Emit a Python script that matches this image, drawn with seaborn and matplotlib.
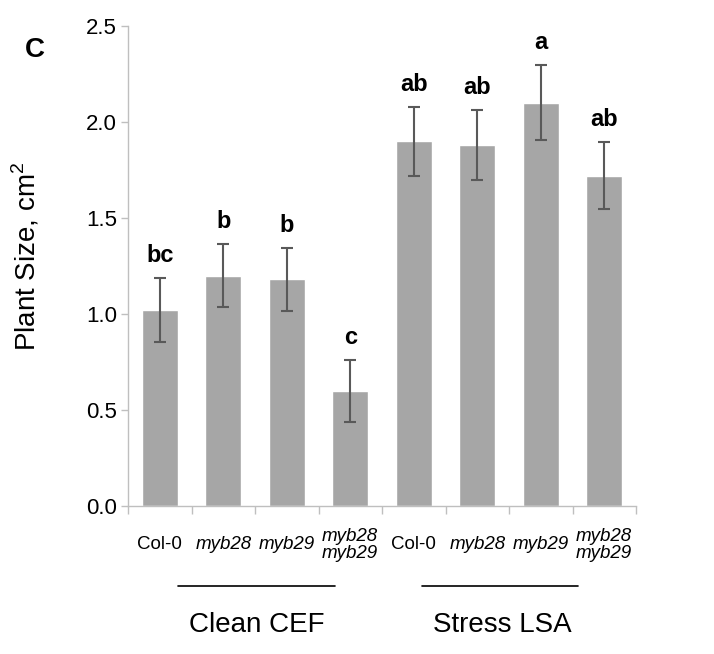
import pandas as pd
import matplotlib.pyplot as plt
import matplotlib.transforms as mtransforms
import seaborn as sns

# dados
grupos = ['Clean CEF'] * 4 + ['Stress LSA'] * 4
genotipos = ['Col-0', 'myb28', 'myb29', 'myb28\nmyb29'] * 2
medias = [1.02, 1.20, 1.18, 0.60, 1.90, 1.88, 2.10, 1.72]
erros = [0.165, 0.165, 0.165, 0.16, 0.18, 0.18, 0.195, 0.175]
letras = ['bc', 'b', 'b', 'c', 'ab', 'ab', 'a', 'ab']
y_ticks = [0.0, 0.5, 1.0, 1.5, 2.0, 2.5]

df = pd.DataFrame({'grupo': grupos, 'genotipo': genotipos, 'media': medias})
df['chave'] = df['grupo'] + ' ' + df['genotipo']

sns.set_style('white')
plt.rcParams['font.family'] = ['Liberation Sans', 'DejaVu Sans']
plt.rcParams['mathtext.fontset'] = 'custom'
plt.rcParams['mathtext.rm'] = 'Liberation Sans'
plt.rcParams['text.color'] = 'black'
plt.rcParams['ytick.labelcolor'] = 'black'

fig = plt.figure(figsize=(7.14, 6.54), dpi=100)
ax = fig.add_axes([128 / 714, 148 / 654, 508 / 714, 480 / 654])

sns.barplot(data=df, x='chave', y='media', order=list(df['chave']),
            color='#a6a6a6', saturation=1, width=0.57, errorbar=None, ax=ax)
xs = list(range(len(medias)))
ax.errorbar(xs, medias, yerr=erros, fmt='none', ecolor='#595959',
            elinewidth=1.5, capsize=4, capthick=1.5)

for x, m, e, l in zip(xs, medias, erros, letras):
    ax.annotate(l, (x, m + e), xytext=(0, 8), textcoords='offset points',
                ha='center', va='bottom', fontsize=17, fontweight='bold',
                color='black')

ax.set_xlim(-0.5, 7.5)
ax.set_ylim(0, 2.5)
ax.set_yticks(y_ticks)
ax.set_yticklabels([f'{v:.1f}' for v in y_ticks], fontsize=16, color='black')
ax.tick_params(axis='y', left=True, length=5, width=1, color='#bfbfbf', pad=3)

# ticks no estilo do Excel, entre as categorias
ax.set_xticks([i - 0.5 for i in range(len(medias) + 1)])
ax.set_xticklabels([])
ax.tick_params(axis='x', bottom=True, length=6, width=1, color='#bfbfbf')

for s in ['top', 'right']:
    ax.spines[s].set_visible(False)
for s in ['left', 'bottom']:
    ax.spines[s].set_color('#bfbfbf')
    ax.spines[s].set_linewidth(1)

ax.set_xlabel('')
ax.set_ylabel(r'Plant Size, cm$^\mathregular{2}$', fontsize=20, color='black')
ax.yaxis.set_label_coords(-0.17, 0.52)

trans = mtransforms.blended_transform_factory(ax.transData, ax.transAxes)
for x, g in zip(xs, genotipos):
    estilo = 'normal' if g == 'Col-0' else 'italic'
    ax.text(x, -0.081, g, transform=trans, ha='center', va='center',
            fontsize=13.5, fontstyle=estilo, linespacing=1.05, color='black')

# linhas e nomes dos grupos
for ini, fim, centro, nome in [(0.29, 2.76, 1.53, 'Clean CEF'), (4.13, 6.59, 5.39, 'Stress LSA')]:
    ax.plot([ini, fim], [-0.167, -0.167], transform=trans, color='black',
            lw=1.2, clip_on=False)
    ax.text(centro, -0.248, nome, transform=trans, ha='center', va='center',
            fontsize=20, color='black')

fig.text(35 / 714, 1 - 50 / 654, 'C', fontsize=20, fontweight='bold',
         ha='center', va='center', color='black')

plt.savefig('out.png', dpi=100)
